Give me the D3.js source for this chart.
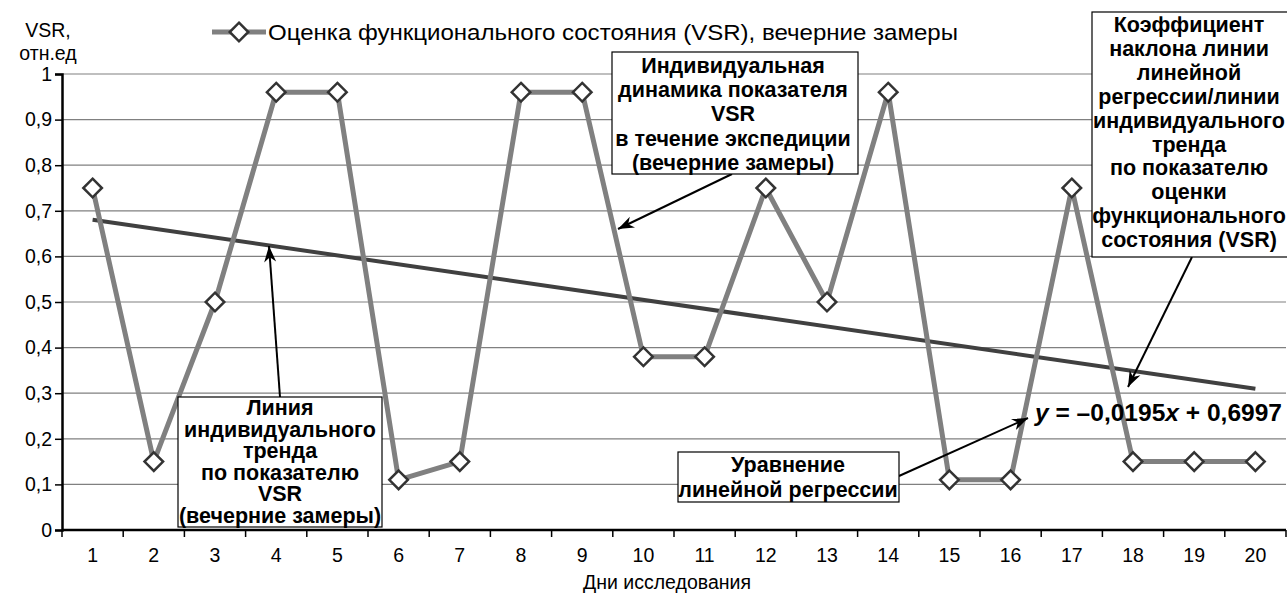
<!DOCTYPE html>
<html>
<head>
<meta charset="utf-8">
<script src="https://cdn.jsdelivr.net/npm/d3@7"></script>
<style>
  body { margin: 0; background: #fff; }
  text { font-family: "Liberation Sans", Arial, sans-serif; }
</style>
</head>
<body>
<script>
// дни и значения VSR (вечерние замеры)
var days = d3.range(1, 21);
var vsr = [0.75, 0.15, 0.5, 0.96, 0.96, 0.11, 0.15, 0.96, 0.96, 0.38,
           0.38, 0.75, 0.5, 0.96, 0.11, 0.11, 0.75, 0.15, 0.15, 0.15];
var yTicks = [0, 0.1, 0.2, 0.3, 0.4, 0.5, 0.6, 0.7, 0.8, 0.9, 1];
// уравнение регрессии с графика
var slope = -0.0195, intercept = 0.6997;

var W = 1287, H = 604;
var margin = {left: 62, right: 1, top: 74, bottom: 74};

var svg = d3.select("body").append("svg")
    .attr("width", W).attr("height", H);

var x = d3.scaleBand()
    .domain(days)
    .range([margin.left, W - margin.right]);
var y = d3.scaleLinear()
    .domain([0, 1])
    .range([H - margin.bottom, margin.top]);
var cx = function(d) { return x(d) + x.bandwidth() / 2; };
var comma = function(v) { return String(v).replace(".", ","); };

// сетка
svg.append("g")
    .selectAll("line")
    .data(yTicks.slice(1))
    .enter().append("line")
        .attr("x1", margin.left).attr("x2", W - margin.right)
        .attr("y1", function(d) { return y(d); })
        .attr("y2", function(d) { return y(d); })
        .attr("stroke", "#808080").attr("stroke-width", 1.2);

// ось Y
var gy = svg.append("g")
    .attr("transform", "translate(" + margin.left + ",0)")
    .call(d3.axisLeft(y).tickValues(yTicks).tickSize(7).tickPadding(3)
        .tickFormat(comma));
gy.select(".domain").attr("stroke-width", 2.5);
gy.selectAll(".tick line").attr("stroke-width", 1.5);
gy.selectAll("text").attr("font-size", 19.5).attr("fill", "#000")
    .attr("font-family", "Liberation Sans, Arial, sans-serif");

// ось X
var y0 = y(0);
svg.append("g")
    .selectAll("line")
    .data(days.concat([null]))
    .enter().append("line")
        .attr("x1", function(d) { return d === null ? W - margin.right : x(d); })
        .attr("x2", function(d) { return d === null ? W - margin.right : x(d); })
        .attr("y1", y0).attr("y2", y0 + 7)
        .attr("stroke", "#000").attr("stroke-width", 1.5);
svg.append("line")
    .attr("x1", margin.left).attr("x2", W - margin.right)
    .attr("y1", y0).attr("y2", y0)
    .attr("stroke", "#000").attr("stroke-width", 2.5);
svg.append("g")
    .selectAll("text")
    .data(days)
    .enter().append("text")
        .attr("x", cx).attr("y", y0 + 32)
        .attr("text-anchor", "middle")
        .attr("font-size", 19.5)
        .text(function(d) { return d; });

svg.append("text")
    .attr("x", 667).attr("y", 589)
    .attr("text-anchor", "middle").attr("font-size", 19.5)
    .text("Дни исследования");

svg.append("text")
    .attr("text-anchor", "middle").attr("font-size", 19.5)
    .selectAll("tspan")
    .data(["VSR,", "отн.ед"])
    .enter().append("tspan")
        .attr("x", 48)
        .attr("y", function(d, i) { return 37 + i * 23; })
        .text(function(d) { return d; });

// линия тренда
svg.append("line")
    .attr("x1", cx(days[0])).attr("x2", cx(days[days.length - 1]))
    .attr("y1", y(slope * days[0] + intercept))
    .attr("y2", y(slope * days[days.length - 1] + intercept))
    .attr("stroke", "#404040").attr("stroke-width", 4);

// ряд
var line = d3.line()
    .x(function(d, i) { return cx(days[i]); })
    .y(function(d) { return y(d); });
svg.append("path")
    .datum(vsr)
    .attr("d", line)
    .attr("fill", "none")
    .attr("stroke", "#808080").attr("stroke-width", 5)
    .attr("stroke-linejoin", "round");

var diamond = d3.symbol().type(d3.symbolDiamond2).size(220);
svg.append("g")
    .selectAll("path")
    .data(vsr)
    .enter().append("path")
        .attr("d", diamond)
        .attr("transform", function(d, i) {
            return "translate(" + cx(days[i]) + "," + y(d) + ")";
        })
        .attr("fill", "#fff").attr("stroke", "#333").attr("stroke-width", 2.5);

// легенда
var lg = svg.append("g").attr("transform", "translate(212,32)");
lg.append("line").attr("x1", 0).attr("x2", 54)
    .attr("stroke", "#808080").attr("stroke-width", 5);
lg.append("path").attr("d", diamond).attr("transform", "translate(27,0)")
    .attr("fill", "#fff").attr("stroke", "#333").attr("stroke-width", 2.5);
lg.append("text").attr("x", 56).attr("y", 8).attr("font-size", 22)
    .attr("textLength", 690).attr("lengthAdjust", "spacingAndGlyphs")
    .text("Оценка функционального состояния (VSR), вечерние замеры");

// выноски
function arrow(x1, y1, x2, y2) {
    svg.append("line")
        .attr("x1", x1).attr("y1", y1).attr("x2", x2).attr("y2", y2)
        .attr("stroke", "#000").attr("stroke-width", 2);
    var a = Math.atan2(y2 - y1, x2 - x1), L = 16, w = 6;
    var bx = x2 - L * Math.cos(a), by = y2 - L * Math.sin(a);
    var nx = x2 - 0.7 * L * Math.cos(a), ny = y2 - 0.7 * L * Math.sin(a);
    var px = -Math.sin(a) * w, py = Math.cos(a) * w;
    svg.append("path")
        .attr("d", "M" + x2 + "," + y2 + "L" + (bx + px) + "," + (by + py) +
              "L" + nx + "," + ny + "L" + (bx - px) + "," + (by - py) + "Z")
        .attr("fill", "#000");
}

function box(x0, y0b, w, h, lines, cxT, firstY, step) {
    svg.append("rect")
        .attr("x", x0).attr("y", y0b).attr("width", w).attr("height", h)
        .attr("fill", "#fff").attr("stroke", "#000").attr("stroke-width", 1.2);
    svg.append("text")
        .attr("text-anchor", "middle").attr("font-size", 21.5)
        .attr("font-weight", "bold")
        .selectAll("tspan")
        .data(lines)
        .enter().append("tspan")
            .attr("x", cxT)
            .attr("y", function(d, i) { return firstY + i * step; })
            .text(function(d) { return d; });
}

arrow(732, 174, 618, 229);
arrow(280, 397, 269, 246);
arrow(899, 476, 1028, 418);
arrow(1192, 257, 1128, 387);

box(612, 52, 246, 122,
    ["Индивидуальная", "динамика показателя", "VSR",
     "в течение экспедиции", "(вечерние замеры)"], 733, 73, 24.2);
box(178, 397, 204, 130,
    ["Линия", "индивидуального", "тренда", "по показателю", "VSR",
     "(вечерние замеры)"], 280, 415, 21.5);
box(678, 452, 221, 50,
    ["Уравнение", "линейной регрессии"], 788, 472, 25);
box(1092, 12, 200, 245,
    ["Коэффициент", "наклона линии", "линейной", "регрессии/линии",
     "индивидуального", "тренда", "по показателю", "оценки",
     "функционального", "состояния (VSR)"], 1189, 32, 23.9);

// уравнение
var eq = svg.append("text")
    .attr("x", 1035).attr("y", 421)
    .attr("font-size", 23).attr("font-weight", "bold")
    .attr("textLength", 247).attr("lengthAdjust", "spacingAndGlyphs");
eq.append("tspan").attr("font-style", "italic").text("y");
eq.append("tspan").text(" = –0,0195");
eq.append("tspan").attr("font-style", "italic").text("x");
eq.append("tspan").text(" + 0,6997");
</script>
</body>
</html>
